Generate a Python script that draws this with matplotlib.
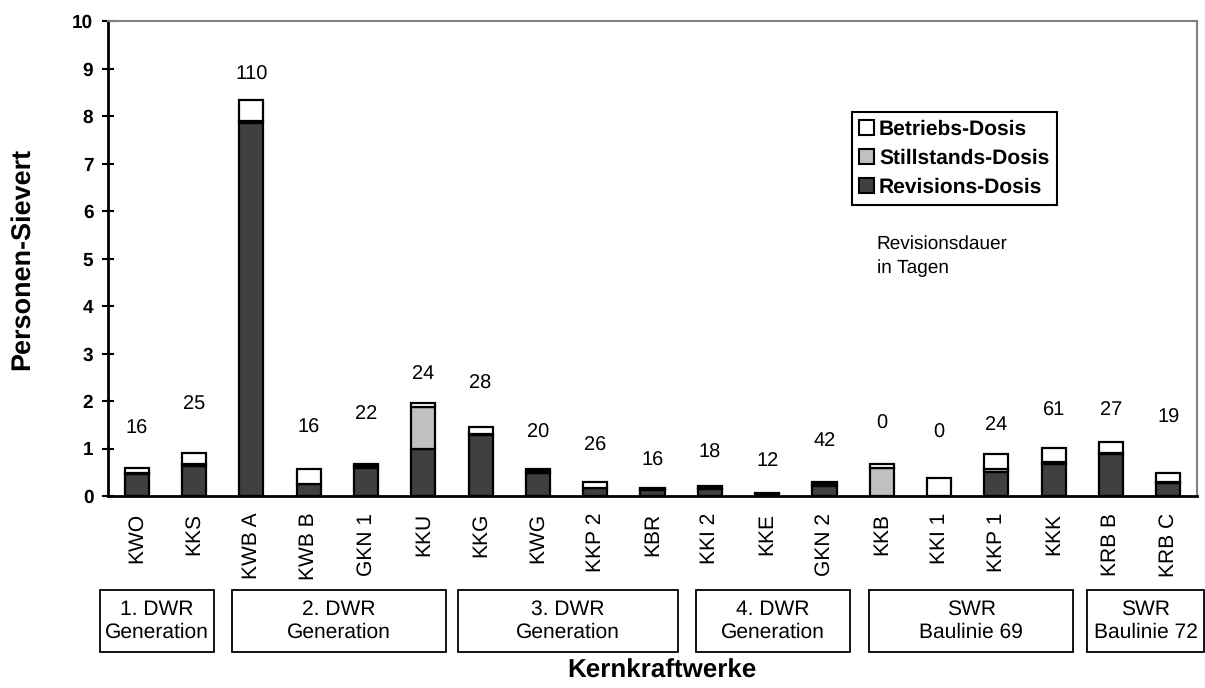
import matplotlib
matplotlib.use("Agg")
import matplotlib.pyplot as plt
from matplotlib.patches import Rectangle, Patch
import matplotlib.transforms as mtransforms

plt.rcParams['font.family'] = ['Liberation Sans', 'DejaVu Sans']
plt.rcParams['text.hinting'] = 'no_hinting'
plt.rcParams['text.hinting_factor'] = 1

plants = ["KWO", "KKS", "KWB A", "KWB B", "GKN 1", "KKU", "KKG", "KWG", "KKP 2", "KBR",
          "KKI 2", "KKE", "GKN 2", "KKB", "KKI 1", "KKP 1", "KKK", "KRB B", "KRB C"]
revision = [0.47, 0.64, 7.85, 0.25, 0.60, 1.00, 1.28, 0.49, 0.16, 0.12,
            0.15, 0.04, 0.22, 0.00, 0.00, 0.50, 0.67, 0.88, 0.27]
stillstand = [0.01, 0.03, 0.05, 0.01, 0.03, 0.88, 0.02, 0.03, 0.02, 0.03,
              0.03, 0.01, 0.04, 0.60, 0.00, 0.07, 0.05, 0.03, 0.02]
betrieb = [0.11, 0.23, 0.45, 0.32, 0.05, 0.07, 0.15, 0.05, 0.11, 0.03,
           0.04, 0.02, 0.04, 0.07, 0.38, 0.31, 0.30, 0.22, 0.20]
days = ["16", "25", "110", "16", "22", "24", "28", "20", "26", "16",
        "18", "12", "42", "0", "0", "24", "61", "27", "19"]
day_label_y = [1.42, 1.93, 8.87, 1.44, 1.74, 2.58, 2.37, 1.34, 1.06, 0.75,
               0.92, 0.75, 1.17, 1.53, 1.34, 1.51, 1.80, 1.82, 1.66]
groups = ["1. DWR\nGeneration", "2. DWR\nGeneration", "3. DWR\nGeneration",
          "4. DWR\nGeneration", "SWR\nBaulinie 69", "SWR\nBaulinie 72"]
group_spans = [(-0.64, 1.35), (1.66, 5.40), (5.61, 9.44), (9.76, 12.45),
               (12.78, 16.34), (16.58, 18.63)]

c_rev = "#404040"
c_still = "#c0c0c0"
c_betr = "#ffffff"

fig = plt.figure(figsize=(12.05, 6.88), dpi=100)
ax = fig.add_axes([0.0896, 0.279, 0.9038, 0.690])

x = list(range(len(plants)))
w = 0.42
lw = 1.6
bottom2 = [r + s for r, s in zip(revision, stillstand)]
ax.bar(x, revision, w, color=c_rev, edgecolor="black", linewidth=lw, zorder=3)
ax.bar(x, stillstand, w, bottom=revision, color=c_still, edgecolor="black", linewidth=lw, zorder=3)
ax.bar(x, betrieb, w, bottom=bottom2, color=c_betr, edgecolor="black", linewidth=lw, zorder=3)

for xi, d, yy in zip(x, days, day_label_y):
    ax.text(xi, yy, d, ha="center", va="center", fontsize=14.5)

ax.set_xlim(-0.5, len(plants) - 0.5)
ax.set_ylim(0, 10)
ax.set_yticks(range(0, 11))
ax.set_yticklabels([str(i) for i in range(0, 11)], fontweight="bold", fontsize=14)
ax.tick_params(axis="y", direction="inout", length=9, width=1.5, pad=6)
ax.set_xticks(x)
ax.set_xticklabels(plants, rotation=90, fontsize=15)
ax.tick_params(axis="x", length=0, pad=12)

for s in ["left", "bottom"]:
    ax.spines[s].set_linewidth(2)
    ax.spines[s].set_color("black")
for s in ["top", "right"]:
    ax.spines[s].set_linewidth(1.5)
    ax.spines[s].set_color("#808080")

fig.text(0.018, 0.279 + 0.690 / 2, "Personen-Sievert", rotation=90, ha="center",
         va="center", fontsize=19.5, fontweight="bold")

trans = mtransforms.blended_transform_factory(ax.transData, ax.transAxes)
y0, y1 = -0.329, -0.198
for (a, b), g in zip(group_spans, groups):
    r = Rectangle((a, y0), b - a, y1 - y0, transform=trans, fill=False,
                  edgecolor="black", linewidth=1.3, clip_on=False)
    ax.add_patch(r)
    ax.text((a + b) / 2, (y0 + y1) / 2, g, transform=trans, ha="center", va="center",
            fontsize=15, linespacing=1.2, clip_on=False)

fig.text(0.549, 0.024, "Kernkraftwerke", ha="center", va="center",
         fontsize=19, fontweight="bold")

handles = [Patch(facecolor=c_betr, edgecolor="black", linewidth=1.5, label="Betriebs-Dosis"),
           Patch(facecolor=c_still, edgecolor="black", linewidth=1.5, label="Stillstands-Dosis"),
           Patch(facecolor=c_rev, edgecolor="black", linewidth=1.5, label="Revisions-Dosis")]
leg = ax.legend(handles=handles, loc="upper left", bbox_to_anchor=(0.683, 0.808),
                frameon=True, fancybox=False, edgecolor="black", framealpha=1,
                prop={"weight": "bold", "size": 15}, handlelength=0.7, handleheight=0.7,
                handletextpad=0.25, labelspacing=0.45, borderpad=0.35, borderaxespad=0)
leg.get_frame().set_linewidth(1.5)

ax.text(0.706, 0.505, "Revisionsdauer\nin Tagen", transform=ax.transAxes, ha="left",
        va="center", fontsize=13.5, linespacing=1.45)

fig.savefig("out.png", dpi=100)
